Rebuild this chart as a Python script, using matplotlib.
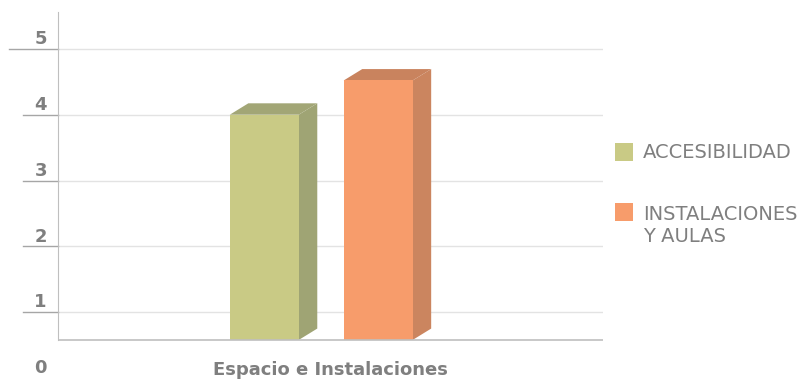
import matplotlib
matplotlib.use("Agg")
import matplotlib.pyplot as plt
import matplotlib.transforms as mtransforms
from matplotlib.patches import Polygon, Rectangle

category = "Espacio e Instalaciones"
series = ["ACCESIBILIDAD", "INSTALACIONES\nY AULAS"]
values = [4.0, 4.52]
yticks = [0, 1, 2, 3, 4, 5]
front_colors = ["#C9CA85", "#F79C6B"]
side_colors = ["#9FA474", "#CB855F"]
top_colors = ["#A2A676", "#C9835E"]

GREY = "#7F7F7F"
FLOOR = 0.578          # the 3D floor sits above the 0 label
YTOP = 5.56
BAR_W = 0.253
GAP = 0.165
DX, DY = 0.068, 0.173  # depth offset of the 3D faces (data units)

fig = plt.figure(figsize=(8.01, 3.83), dpi=100)
ax = fig.add_axes([0.0724, 0.01305, 0.6804, 0.9556])
ax.set_xlim(-1, 1)
ax.set_ylim(0, YTOP)

# gridlines + tick marks on the back wall
ax.hlines(yticks[1:], -1, 1, color="#E3E3E3", lw=1, zorder=0)
for t in yticks[1:]:
    x0 = -0.09 if t == yticks[-1] else -0.0642
    ax.plot([x0, 0], [t, t], color="#A6A6A6", lw=1, clip_on=False,
            transform=ax.get_yaxis_transform())

offsets = [-(BAR_W + GAP) / 2 - DX / 2, (BAR_W + GAP) / 2 - DX / 2]
for i, (v, off) in enumerate(zip(values, offsets)):
    ax.bar(off, v - FLOOR, BAR_W, bottom=FLOOR, color=front_colors[i],
           label=series[i], zorder=3)
    l, r = off - BAR_W / 2, off + BAR_W / 2
    ax.add_patch(Polygon([(r, FLOOR), (r + DX, FLOOR + DY), (r + DX, v + DY), (r, v)],
                         closed=True, facecolor=side_colors[i], edgecolor="none", zorder=2))
    ax.add_patch(Polygon([(l, v), (l + DX, v + DY), (r + DX, v + DY), (r, v)],
                         closed=True, facecolor=top_colors[i], edgecolor="none", zorder=2))

ax.axhline(FLOOR, color="#BFBFBF", lw=1.2, zorder=4)
for s in ["top", "right", "bottom"]:
    ax.spines[s].set_visible(False)
ax.spines["left"].set_color("#BFBFBF")
ax.spines["left"].set_bounds(FLOOR, YTOP)

ax.set_yticks(yticks)
ax.set_yticklabels([str(t) for t in yticks], fontsize=13, fontweight="bold", color=GREY)
ax.tick_params(axis="y", length=0, pad=8)
shift = mtransforms.ScaledTranslation(0, 8.5 / 72, fig.dpi_scale_trans)
for lbl in ax.get_yticklabels():
    lbl.set_transform(lbl.get_transform() + shift)

ax.set_xticks([0])
ax.set_xticklabels([category], fontsize=13, fontweight="bold", color=GREY)
ax.tick_params(axis="x", length=0, pad=-12)

# legend drawn by hand: square aligned with the first text line
W, H = 801, 383
sq_top = [143, 203]
base = [158, 242]      # baseline of the last text line
for i, name in enumerate(series):
    fig.add_artist(Rectangle((615 / W, (H - sq_top[i] - 18) / H), 18 / W, 18 / H,
                             transform=fig.transFigure, facecolor=front_colors[i],
                             edgecolor="none"))
    fig.text(643 / W, (H - base[i]) / H, name, fontsize=14, color=GREY,
             va="baseline", ha="left", linespacing=1.23)

fig.savefig("out.png", dpi=100)
